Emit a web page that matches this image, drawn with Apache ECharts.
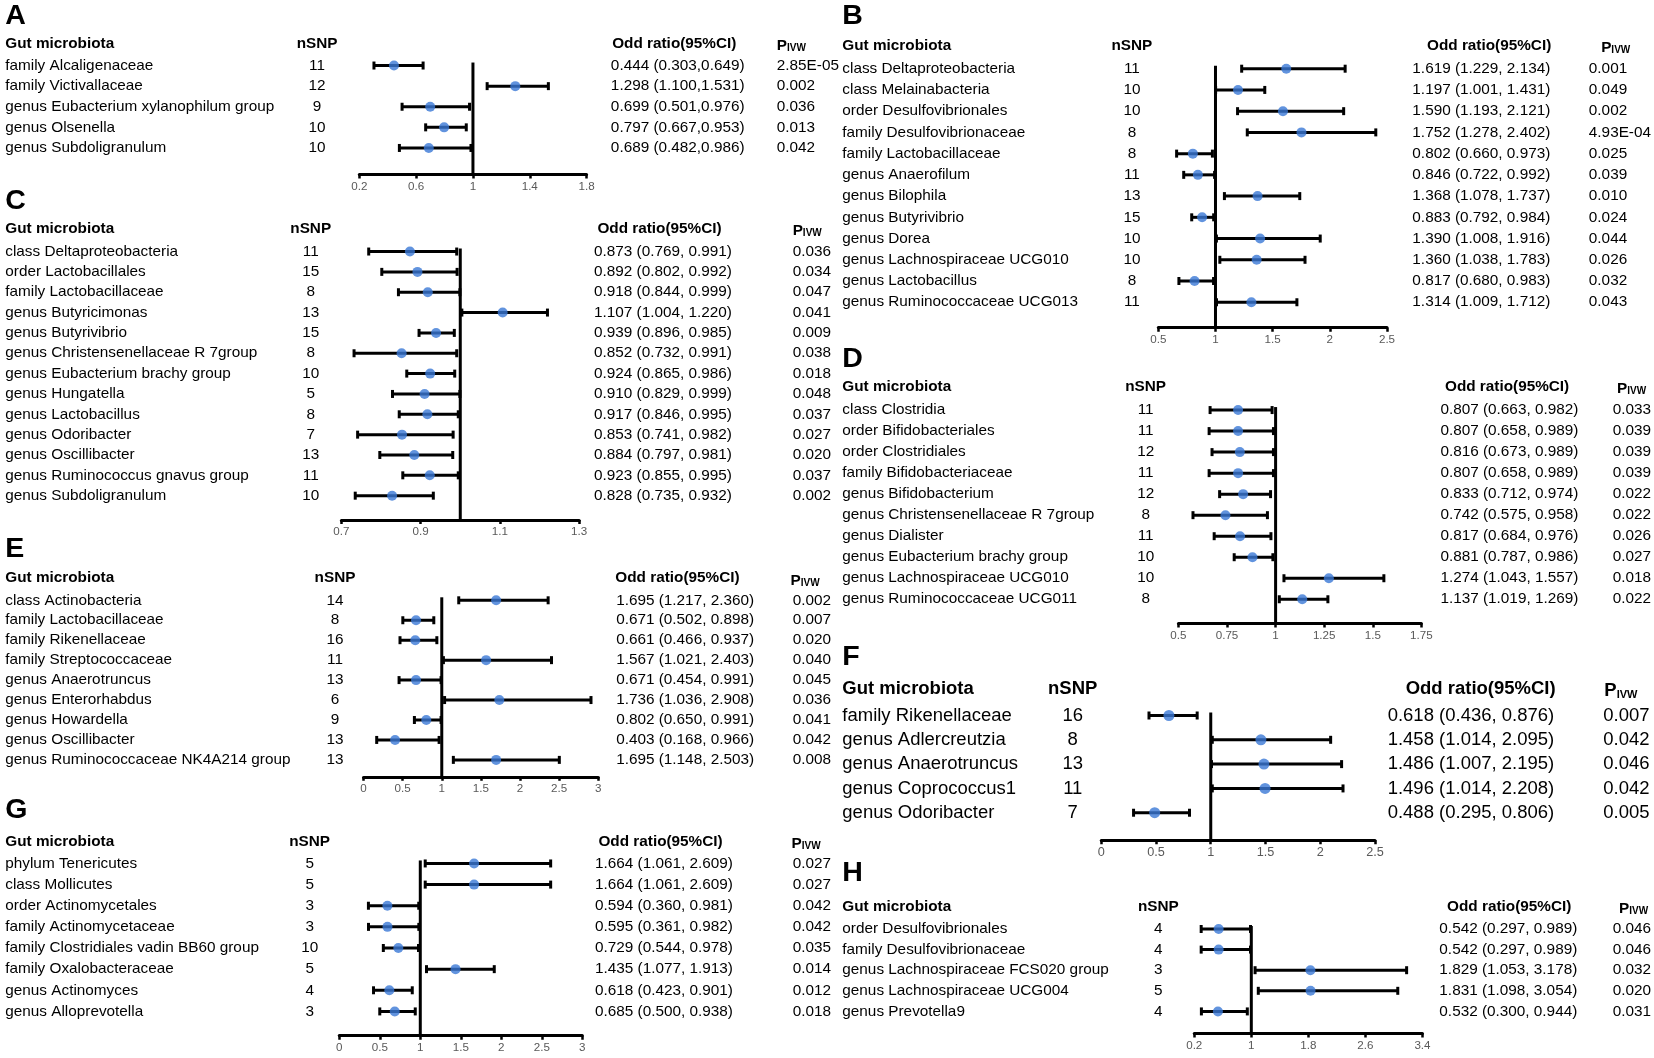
<!DOCTYPE html>
<html>
<head>
<meta charset="utf-8">
<script src="https://cdn.jsdelivr.net/npm/echarts/dist/echarts.min.js"></script>
<style>
html,body{margin:0;padding:0;background:#fff;}
#chart{width:1654px;height:1058px;}
</style>
</head>
<body>
<div id="chart"></div>
<script>
// ---------------- DATA ----------------
const A_names = ['family Alcaligenaceae','family Victivallaceae','genus Eubacterium xylanophilum group','genus Olsenella','genus Subdoligranulum'];
const A_nsnp = [11,12,9,10,10];
const A_or = [0.444,1.298,0.699,0.797,0.689];
const A_lo = [0.303,1.100,0.501,0.667,0.482];
const A_hi = [0.649,1.531,0.976,0.953,0.986];
const A_p = ['2.85E-05','0.002','0.036','0.013','0.042'];
const A_ticks = [0.2,0.6,1,1.4,1.8];

const B_names = ['class Deltaproteobacteria','class Melainabacteria','order Desulfovibrionales','family Desulfovibrionaceae','family Lactobacillaceae','genus Anaerofilum','genus Bilophila','genus Butyrivibrio','genus Dorea','genus Lachnospiraceae UCG010','genus Lactobacillus','genus Ruminococcaceae UCG013'];
const B_nsnp = [11,10,10,8,8,11,13,15,10,10,8,11];
const B_or = [1.619,1.197,1.590,1.752,0.802,0.846,1.368,0.883,1.390,1.360,0.817,1.314];
const B_lo = [1.229,1.001,1.193,1.278,0.660,0.722,1.078,0.792,1.008,1.038,0.680,1.009];
const B_hi = [2.134,1.431,2.121,2.402,0.973,0.992,1.737,0.984,1.916,1.783,0.983,1.712];
const B_p = ['0.001','0.049','0.002','4.93E-04','0.025','0.039','0.010','0.024','0.044','0.026','0.032','0.043'];
const B_ticks = [0.5,1,1.5,2,2.5];

const C_names = ['class Deltaproteobacteria','order Lactobacillales','family Lactobacillaceae','genus Butyricimonas','genus Butyrivibrio','genus Christensenellaceae R 7group','genus Eubacterium brachy group','genus Hungatella','genus Lactobacillus','genus Odoribacter','genus Oscillibacter','genus Ruminococcus gnavus group','genus Subdoligranulum'];
const C_nsnp = [11,15,8,13,15,8,10,5,8,7,13,11,10];
const C_or = [0.873,0.892,0.918,1.107,0.939,0.852,0.924,0.910,0.917,0.853,0.884,0.923,0.828];
const C_lo = [0.769,0.802,0.844,1.004,0.896,0.732,0.865,0.829,0.846,0.741,0.797,0.855,0.735];
const C_hi = [0.991,0.992,0.999,1.220,0.985,0.991,0.986,0.999,0.995,0.982,0.981,0.995,0.932];
const C_p = ['0.036','0.034','0.047','0.041','0.009','0.038','0.018','0.048','0.037','0.027','0.020','0.037','0.002'];
const C_ticks = [0.7,0.9,1.1,1.3];

const D_names = ['class Clostridia','order Bifidobacteriales','order Clostridiales','family Bifidobacteriaceae','genus Bifidobacterium','genus Christensenellaceae R 7group','genus Dialister','genus Eubacterium brachy group','genus Lachnospiraceae UCG010','genus Ruminococcaceae UCG011'];
const D_nsnp = [11,11,12,11,12,8,11,10,10,8];
const D_or = [0.807,0.807,0.816,0.807,0.833,0.742,0.817,0.881,1.274,1.137];
const D_lo = [0.663,0.658,0.673,0.658,0.712,0.575,0.684,0.787,1.043,1.019];
const D_hi = [0.982,0.989,0.989,0.989,0.974,0.958,0.976,0.986,1.557,1.269];
const D_p = ['0.033','0.039','0.039','0.039','0.022','0.022','0.026','0.027','0.018','0.022'];
const D_ticks = [0.5,0.75,1,1.25,1.5,1.75];

const E_names = ['class Actinobacteria','family Lactobacillaceae','family Rikenellaceae','family Streptococcaceae','genus Anaerotruncus','genus Enterorhabdus','genus Howardella','genus Oscillibacter','genus Ruminococcaceae NK4A214 group'];
const E_nsnp = [14,8,16,11,13,6,9,13,13];
const E_or = [1.695,0.671,0.661,1.567,0.671,1.736,0.802,0.403,1.695];
const E_lo = [1.217,0.502,0.466,1.021,0.454,1.036,0.650,0.168,1.148];
const E_hi = [2.360,0.898,0.937,2.403,0.991,2.908,0.991,0.966,2.503];
const E_p = ['0.002','0.007','0.020','0.040','0.045','0.036','0.041','0.042','0.008'];
const E_ticks = [0,0.5,1,1.5,2,2.5,3];

const F_names = ['family Rikenellaceae','genus Adlercreutzia','genus Anaerotruncus','genus Coprococcus1','genus Odoribacter'];
const F_nsnp = [16,8,13,11,7];
const F_or = [0.618,1.458,1.486,1.496,0.488];
const F_lo = [0.436,1.014,1.007,1.014,0.295];
const F_hi = [0.876,2.095,2.195,2.208,0.806];
const F_p = ['0.007','0.042','0.046','0.042','0.005'];
const F_ticks = [0,0.5,1,1.5,2,2.5];

const G_names = ['phylum Tenericutes','class Mollicutes','order Actinomycetales','family Actinomycetaceae','family Clostridiales vadin BB60 group','family Oxalobacteraceae','genus Actinomyces','genus Alloprevotella'];
const G_nsnp = [5,5,3,3,10,5,4,3];
const G_or = [1.664,1.664,0.594,0.595,0.729,1.435,0.618,0.685];
const G_lo = [1.061,1.061,0.360,0.361,0.544,1.077,0.423,0.500];
const G_hi = [2.609,2.609,0.981,0.982,0.978,1.913,0.901,0.938];
const G_p = ['0.027','0.027','0.042','0.042','0.035','0.014','0.012','0.018'];
const G_ticks = [0,0.5,1,1.5,2,2.5,3];

const H_names = ['order Desulfovibrionales','family Desulfovibrionaceae','genus Lachnospiraceae FCS020 group','genus Lachnospiraceae UCG004','genus Prevotella9'];
const H_nsnp = [4,4,3,5,4];
const H_or = [0.542,0.542,1.829,1.831,0.532];
const H_lo = [0.297,0.297,1.053,1.098,0.300];
const H_hi = [0.989,0.989,3.178,3.054,0.944];
const H_p = ['0.046','0.046','0.032','0.020','0.031'];
const H_ticks = [0.2,1,1.8,2.6,3.4];

// ---------------- LAYOUT (measured on a 1565-wide view, scaled by K) ----------------
const K = 1654 / 1565;
const panels = [
  {letter:'A', names:A_names, nsnp:A_nsnp, or:A_or, lo:A_lo, hi:A_hi, p:A_p, ticks:A_ticks, sep:',',
   L:340, R:555, row0:62, step:19.5, axisY:165, nameX:5, nsnpX:300, orX:578, orHX:638, pX:735, pHX:735, headY:41, lx:5, ly:15, fs:14.5},
  {letter:'B', names:B_names, nsnp:B_nsnp, or:B_or, lo:B_lo, hi:B_hi, p:B_p, ticks:B_ticks, sep:', ',
   L:1096, R:1324, row0:65, step:20.09, axisY:310, nameX:797, nsnpX:1071, orX:1348, orHX:1409, pX:1515, pHX:1515, headY:43, lx:797, ly:15, fs:14.5},
  {letter:'C', names:C_names, nsnp:C_nsnp, or:C_or, lo:C_lo, hi:C_hi, p:C_p, ticks:C_ticks, sep:', ',
   L:323, R:548, row0:238, step:19.25, axisY:492, nameX:5, nsnpX:294, orX:562, orHX:624, pX:750, pHX:750, headY:216, lx:5, ly:190, fs:14.5},
  {letter:'D', names:D_names, nsnp:D_nsnp, or:D_or, lo:D_lo, hi:D_hi, p:D_p, ticks:D_ticks, sep:', ',
   L:1115, R:1347, row0:388, step:19.89, axisY:590, nameX:797, nsnpX:1084, orX:1365, orHX:1426, pX:1528, pHX:1530, headY:366, lx:797, ly:340, fs:14.5},
  {letter:'E', names:E_names, nsnp:E_nsnp, or:E_or, lo:E_lo, hi:E_hi, p:E_p, ticks:E_ticks, sep:', ',
   L:344, R:566, row0:568, step:18.875, axisY:735, nameX:5, nsnpX:317, orX:583, orHX:641, pX:750, pHX:748, headY:547, lx:5, ly:520, fs:14.5},
  {letter:'F', names:F_names, nsnp:F_nsnp, or:F_or, lo:F_lo, hi:F_hi, p:F_p, ticks:F_ticks, sep:', ',
   L:1042, R:1301, row0:677, step:23, axisY:795, nameX:797, nsnpX:1015, orX:1313, orHX:1401, pX:1517, pHX:1518, headY:652, lx:797, ly:622, fs:17.5},
  {letter:'G', names:G_names, nsnp:G_nsnp, or:G_or, lo:G_lo, hi:G_hi, p:G_p, ticks:G_ticks, sep:', ',
   L:321, R:551, row0:817, step:20, axisY:980, nameX:5, nsnpX:293, orX:563, orHX:625, pX:750, pHX:749, headY:796, lx:5, ly:767, fs:14.5},
  {letter:'H', names:H_names, nsnp:H_nsnp, or:H_or, lo:H_lo, hi:H_hi, p:H_p, ticks:H_ticks, sep:', ',
   L:1130, R:1350, row0:879, step:19.5, axisY:978, nameX:797, nsnpX:1096, orX:1366, orHX:1428, pX:1530, pHX:1532, headY:858, lx:797, ly:826, fs:14.5}
];

const FONT = "'Liberation Sans', Arial, Helvetica, sans-serif";
const DOT = '#3a78d6';

const grids = [], xAxes = [], yAxes = [], series = [], graphics = [];

panels.forEach((raw, i) => {
  const pn = Object.assign({}, raw);
  ['L','R','row0','step','axisY','nameX','nsnpX','orX','orHX','pX','pHX','headY','lx','ly','fs'].forEach(k => { pn[k] = raw[k] * K; });
  const n = pn.names.length;
  const top = pn.row0 - pn.step / 2;
  const height = n * pn.step;
  const offset = pn.axisY - (top + height);
  grids.push({left: pn.L, top: top, width: pn.R - pn.L, height: height, containLabel: false});
  xAxes.push({
    type: 'value', gridIndex: i, min: pn.ticks[0], max: pn.ticks[pn.ticks.length - 1],
    offset: offset,
    axisLine: {show: true, onZero: false, lineStyle: {color: '#000', width: 3}},
    axisTick: {show: true, customValues: pn.ticks, length: 4, inside: false, lineStyle: {color: '#000', width: 2.5}},
    axisLabel: {show: true, customValues: pn.ticks, color: '#595959', fontSize: (pn.letter === 'F' ? 12 : 11) * K, fontFamily: FONT, margin: 6,
      formatter: v => String(+v.toFixed(2))},
    splitLine: {show: false}
  });
  const base = yAxes.length;
  const catCommon = (data) => ({
    type: 'category', gridIndex: i, inverse: true, data: data,
    axisLine: {show: false}, axisTick: {show: false}, splitLine: {show: false}
  });
  const lab = (extra) => Object.assign({show: true, interval: 0, color: '#000', fontSize: pn.fs, fontFamily: FONT}, extra);
  yAxes.push(Object.assign(catCommon(pn.names), {position: 'left',
    axisLabel: lab({align: 'left', margin: pn.L - pn.nameX})}));
  yAxes.push(Object.assign(catCommon(pn.nsnp.map(String)), {position: 'left',
    axisLabel: lab({align: 'center', margin: pn.L - pn.nsnpX})}));
  yAxes.push(Object.assign(catCommon(pn.or.map((v, k) => v.toFixed(3) + ' (' + pn.lo[k].toFixed(3) + pn.sep + pn.hi[k].toFixed(3) + ')')), {position: 'right',
    axisLabel: lab({align: 'left', margin: pn.orX - pn.R})}));
  yAxes.push(Object.assign(catCommon(pn.p), {position: 'right',
    axisLabel: lab({align: 'left', margin: pn.pX - pn.R})}));

  // reference line at OR = 1
  series.push({
    type: 'custom', xAxisIndex: i, yAxisIndex: base, silent: true, clip: false, z: 2,
    data: [[1, 0]],
    renderItem: (params, api) => {
      const pt = api.coord([1, 0]);
      const cs = params.coordSys;
      const yb = cs.y + cs.height + offset;
      return {type: 'line', shape: {x1: pt[0], y1: pt[1] - 3, x2: pt[0], y2: yb},
        style: {stroke: '#000', lineWidth: 3}};
    }
  });
  // error bars
  series.push({
    type: 'custom', xAxisIndex: i, yAxisIndex: base, silent: true, clip: false, z: 3,
    encode: {x: [0, 1], y: 2},
    data: pn.lo.map((v, k) => [v, pn.hi[k], k]),
    renderItem: (params, api) => {
      const a = api.coord([api.value(0), api.value(2)]);
      const b = api.coord([api.value(1), api.value(2)]);
      const h = 4;
      const st = {stroke: '#000', lineWidth: 3};
      return {type: 'group', children: [
        {type: 'line', shape: {x1: a[0], y1: a[1], x2: b[0], y2: b[1]}, style: st},
        {type: 'line', shape: {x1: a[0], y1: a[1] - h, x2: a[0], y2: a[1] + h}, style: st},
        {type: 'line', shape: {x1: b[0], y1: b[1] - h, x2: b[0], y2: b[1] + h}, style: st}
      ]};
    }
  });
  // point estimates
  series.push({
    type: 'scatter', xAxisIndex: i, yAxisIndex: base, silent: true, z: 4,
    symbol: 'circle', symbolSize: pn.letter === 'F' ? 11 : 10,
    itemStyle: {color: DOT},
    data: pn.or.map((v, k) => [v, k])
  });

  // headers and panel letter
  const hfs = pn.fs;
  graphics.push({type: 'text', x: pn.lx, y: pn.ly, style: {text: pn.letter, fontSize: 27 * K, fontWeight: 'bold', fontFamily: FONT, fill: '#000', textAlign: 'left', textVerticalAlign: 'middle', align: 'left', verticalAlign: 'middle'}});
  const head = (txt, x, al) => graphics.push({type: 'text', x: x, y: pn.headY,
    style: {text: txt, fontSize: hfs, fontWeight: 'bold', fontFamily: FONT, fill: '#000', textAlign: al, textVerticalAlign: 'middle', align: al, verticalAlign: 'middle'}});
  head('Gut microbiota', pn.nameX, 'left');
  head('nSNP', pn.nsnpX, 'center');
  head('Odd ratio(95%CI)', pn.orHX, 'center');
  graphics.push({type: 'text', x: pn.pHX, y: pn.headY,
    style: {text: '{p|P}{s|IVW}', fontFamily: FONT, fill: '#000', textAlign: 'left', textVerticalAlign: 'middle', align: 'left', verticalAlign: 'middle',
      rich: {
        p: {fontSize: hfs, fontWeight: 'bold', fontFamily: FONT, lineHeight: hfs + 4, verticalAlign: 'bottom'},
        s: {fontSize: Math.round(hfs * 0.62), fontWeight: 'bold', fontFamily: FONT, lineHeight: hfs * 0.62, verticalAlign: 'bottom'}
      }}});
});

const chart = echarts.init(document.getElementById('chart'), null, {renderer: 'canvas'});
chart.setOption({
  backgroundColor: '#fff',
  animation: false,
  grid: grids,
  xAxis: xAxes,
  yAxis: yAxes,
  series: series,
  graphic: {elements: graphics}
});
</script>
</body>
</html>
